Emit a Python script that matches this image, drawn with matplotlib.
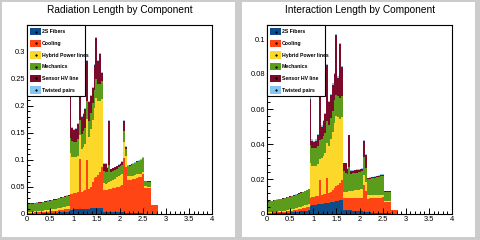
import numpy as np
import matplotlib
matplotlib.use('Agg')
import matplotlib.pyplot as plt
from matplotlib.patches import Rectangle
from matplotlib.ticker import MultipleLocator, FuncFormatter

plt.rcParams['font.family'] = ['Liberation Sans', 'DejaVu Sans']

# eta bins, 0.04 wide, filled up to 2.84
edges = np.linspace(0, 2.84, 72)

components = ['2S Fibers', 'Cooling', 'Hybrid Power lines', 'Mechanics',
              'Sensor HV line', 'Twisted pairs']
colors = ['#0f4c8a', '#ff4513', '#fcd82b', '#5b9c1d', '#7c0a2a', '#86c6f4']

# ---- radiation length (x/X0) per component
fib_rad = [0.0004, 0.0004, 0.0005, 0.0005, 0.0006, 0.0007, 0.0008, 0.0009, 0.0010, 0.0012, 0.0013, 0.0015,
           0.0017, 0.0019, 0.0021, 0.0023, 0.0026, 0.0029, 0.0032, 0.0035, 0.0038, 0.0040, 0.0042,
           0.0080, 0.0082, 0.0084, 0.0086, 0.0088, 0.0090, 0.0092, 0.0094, 0.0096, 0.0098, 0.0100, 0.0102,
           0.0104, 0.0106, 0.0108, 0.0110, 0.0115, 0.0120,
           0.0045, 0.0043, 0.0041, 0.0040, 0.0038, 0.0036, 0.0035, 0.0034, 0.0033, 0.0032, 0.0031,
           0.0030, 0.0026, 0.0022, 0.0019, 0.0017, 0.0015, 0.0014, 0.0013, 0.0012, 0.0011, 0.0010,
           0.0008, 0.0008, 0.0007, 0.0007, 0.0005, 0.0005, 0.0005, 0.0005]
cool_rad = [0.0020, 0.0020, 0.0021, 0.0022, 0.0023, 0.0024, 0.0025, 0.0026, 0.0027, 0.0028, 0.0029, 0.0030,
            0.0031, 0.0032, 0.0034, 0.0036, 0.0038, 0.0040, 0.0042, 0.0044, 0.0046, 0.0048, 0.0050,
            0.029, 0.029, 0.030, 0.030, 0.031, 0.092, 0.032, 0.033, 0.034, 0.090, 0.036, 0.040,
            0.048, 0.055, 0.058, 0.061, 0.066, 0.075,
            0.040, 0.040, 0.041, 0.042, 0.043, 0.044, 0.045, 0.046, 0.047, 0.048, 0.050,
            0.100, 0.085, 0.060, 0.061, 0.062, 0.063, 0.064, 0.066, 0.067, 0.068, 0.072,
            0.048, 0.048, 0.047, 0.047, 0.016, 0.016, 0.016, 0.016]
hyb_rad = [0.0015, 0.0016, 0.0017, 0.0018, 0.0019, 0.0020, 0.0021, 0.0022, 0.0024, 0.0026, 0.0028, 0.0030,
           0.0032, 0.0034, 0.0036, 0.0038, 0.0040, 0.0043, 0.0046, 0.0049, 0.0052, 0.0055, 0.0058,
           0.075, 0.068, 0.066, 0.066, 0.068, 0.045, 0.078, 0.082, 0.086, 0.075, 0.096, 0.106,
           0.116, 0.130, 0.146, 0.136, 0.131, 0.126,
           0.012, 0.012, 0.013, 0.014, 0.015, 0.016, 0.017, 0.018, 0.019, 0.020, 0.021,
           0.030, 0.020, 0.008, 0.007, 0.007, 0.006, 0.006, 0.006, 0.005, 0.005, 0.005,
           0.002, 0.002, 0.002, 0.002, 0, 0, 0, 0]
mech_rad = [0.0140, 0.0142, 0.0144, 0.0146, 0.0148, 0.0150, 0.0152, 0.0154, 0.0156, 0.0158, 0.0160, 0.0162,
            0.0164, 0.0166, 0.0168, 0.0170, 0.0172, 0.0175, 0.0178, 0.0181, 0.0184, 0.0187, 0.0190,
            0.028, 0.029, 0.029, 0.029, 0.030, 0.028, 0.029, 0.029, 0.030, 0.034, 0.030, 0.030,
            0.031, 0.034, 0.034, 0.032, 0.032, 0.032,
            0.022, 0.021, 0.020, 0.030, 0.016, 0.016, 0.016, 0.016, 0.017, 0.017, 0.017,
            0.020, 0.012, 0.018, 0.019, 0.020, 0.021, 0.022, 0.023, 0.024, 0.025, 0.025,
            0.010, 0.010, 0.010, 0.010, 0, 0, 0, 0]
sens_rad = [0.0010] * 23 + \
           [0.090, 0.024, 0.022, 0.023, 0.028, 0.052, 0.031, 0.031, 0.035, 0.074, 0.034, 0.032,
            0.028, 0.046, 0.076, 0.043, 0.055, 0.016,
            0.0145, 0.0157, 0.007, 0.082, 0.005, 0.005, 0.005, 0.005, 0.005, 0.005, 0.005,
            0.019, 0.005, 0.001, 0.001, 0.001, 0.001, 0.001, 0.001, 0.001, 0.001, 0.001,
            0.0005, 0.0005, 0.0005, 0.0005, 0, 0, 0, 0]
twist_rad = [0.0003] * 23 + [0.002] * 18 + [0.001] * 22 + [0.0005] * 4 + [0] * 4

# ---- interaction length (x/lambda_I) per component
fib_int = [0.0002, 0.0002, 0.0002, 0.0003, 0.0003, 0.0003, 0.0004, 0.0004, 0.0005, 0.0005, 0.0006, 0.0007,
           0.0008, 0.0009, 0.0010, 0.0011, 0.0012, 0.0013, 0.0015, 0.0016, 0.0018, 0.0020, 0.0022,
           0.0048, 0.0050, 0.0052, 0.0053, 0.0055, 0.0056, 0.0058, 0.0060, 0.0062, 0.0064, 0.0065, 0.0067,
           0.0069, 0.0071, 0.0074, 0.0077, 0.0080, 0.0082,
           0.0025, 0.0024, 0.0023, 0.0022, 0.0021, 0.0020, 0.0019, 0.0018, 0.0017, 0.0016, 0.0015,
           0.0014, 0.0012, 0.0010, 0.0009, 0.0008, 0.0007, 0.0007, 0.0006, 0.0006, 0.0005, 0.0005,
           0.0004, 0.0004, 0.0004, 0.0004, 0.0002, 0.0002, 0.0002, 0.0002]
cool_int = [0.0006, 0.0006, 0.0006, 0.0007, 0.0007, 0.0007, 0.0008, 0.0008, 0.0009, 0.0009, 0.0010, 0.0010,
            0.0011, 0.0011, 0.0012, 0.0013, 0.0013, 0.0014, 0.0015, 0.0016, 0.0017, 0.0018, 0.0019,
            0.0045, 0.0046, 0.0047, 0.0048, 0.0050, 0.0140, 0.0052, 0.0053, 0.0055, 0.0140, 0.0056, 0.0060,
            0.0070, 0.0080, 0.0085, 0.0090, 0.0095, 0.0110,
            0.0065, 0.0065, 0.0066, 0.0067, 0.0068, 0.0069, 0.0070, 0.0071, 0.0072, 0.0073, 0.0075,
            0.0150, 0.0120, 0.0078, 0.0080, 0.0081, 0.0082, 0.0083, 0.0084, 0.0086, 0.0088, 0.0090,
            0.0065, 0.0065, 0.0065, 0.0065, 0.0020, 0.0020, 0.0020, 0.0020]
hyb_int = [0.0003, 0.0003, 0.0003, 0.0004, 0.0004, 0.0004, 0.0005, 0.0005, 0.0005, 0.0006, 0.0006, 0.0007,
           0.0007, 0.0008, 0.0008, 0.0009, 0.0010, 0.0011, 0.0012, 0.0013, 0.0014, 0.0015, 0.0016,
           0.0200, 0.0180, 0.0175, 0.0175, 0.0180, 0.0120, 0.0210, 0.0220, 0.0230, 0.0200, 0.0270, 0.0300,
           0.0330, 0.0370, 0.0400, 0.0390, 0.0370, 0.0360,
           0.0035, 0.0035, 0.0037, 0.0040, 0.0042, 0.0044, 0.0046, 0.0048, 0.0050, 0.0052, 0.0054,
           0.0060, 0.0050, 0.0020, 0.0018, 0.0018, 0.0017, 0.0016, 0.0016, 0.0015, 0.0015, 0.0015,
           0.0005, 0.0005, 0.0005, 0.0005, 0, 0, 0, 0]
mech_int = [0.0060, 0.0061, 0.0062, 0.0063, 0.0064, 0.0065, 0.0066, 0.0067, 0.0068, 0.0069, 0.0070, 0.0071,
            0.0072, 0.0073, 0.0074, 0.0075, 0.0076, 0.0077, 0.0078, 0.0079, 0.0080, 0.0082, 0.0084,
            0.0100, 0.0100, 0.0102, 0.0104, 0.0106, 0.0108, 0.0110, 0.0112, 0.0114, 0.0130, 0.0118, 0.0120,
            0.0122, 0.0130, 0.0120, 0.0120, 0.0120, 0.0120,
            0.0120, 0.0110, 0.0100, 0.0140, 0.0100, 0.0100, 0.0100, 0.0100, 0.0100, 0.0100, 0.0100,
            0.0100, 0.0080, 0.0092, 0.0095, 0.0097, 0.0100, 0.0102, 0.0104, 0.0106, 0.0108, 0.0110,
            0.0054, 0.0054, 0.0054, 0.0054, 0, 0, 0, 0]
sens_int = [0.0003] * 23 + \
           [0.0267, 0.0044, 0.0034, 0.0040, 0.0059, 0.0256, 0.0070, 0.0085, 0.0109, 0.0316, 0.0131, 0.0133,
            0.0149, 0.0149, 0.0346, 0.0103, 0.0305, 0.0168,
            0.0045, 0.0056, 0.0034, 0.0181, 0.0015, 0.0015, 0.0015, 0.0015, 0.0015, 0.0015, 0.0015,
            0.0096, 0.0078, 0.0005, 0.0005, 0.0005, 0.0005, 0.0005, 0.0005, 0.0005, 0.0005, 0.0005,
            0.0002, 0.0002, 0.0002, 0.0002, 0, 0, 0, 0]
twist_int = [0.0001] * 23 + [0.0006] * 18 + [0.0003] * 20 + [0.0010, 0.0003] + [0.0001] * 4 + [0] * 4

rad_layers = [fib_rad, cool_rad, hyb_rad, mech_rad, sens_rad, twist_rad]
int_layers = [fib_int, cool_int, hyb_int, mech_int, sens_int, twist_int]

W, H = 480, 240
fig = plt.figure(figsize=(W / 100, H / 100), dpi=100, facecolor='#cccccc')


def px_rect(x0, y0, x1, y1):
    # pixel box (top-left origin) -> figure fraction
    return [x0 / W, 1 - y1 / H, (x1 - x0) / W, (y1 - y0) / H]


def panel(x_off, layers, ymax, ymaj, ymin, title):
    bg = px_rect(x_off + 2, 2, x_off + 235, 237)
    fig.add_artist(Rectangle(bg[:2], bg[2], bg[3], transform=fig.transFigure,
                             facecolor='white', edgecolor='none', zorder=0))
    ax = fig.add_axes(px_rect(x_off + 27, 25, x_off + 212, 214))
    bottom = np.zeros(len(edges) - 1)
    for vals, c in zip(layers, colors):
        top = bottom + np.asarray(vals)
        ax.stairs(top, edges, baseline=bottom, fill=True, color=c, lw=0, antialiased=False)
        bottom = top
    ax.set_xlim(0, 4)
    ax.set_ylim(0, ymax)
    ax.xaxis.set_major_locator(MultipleLocator(0.5))
    ax.xaxis.set_minor_locator(MultipleLocator(0.1))
    ax.yaxis.set_major_locator(MultipleLocator(ymaj))
    ax.yaxis.set_minor_locator(MultipleLocator(ymin))
    fmt = FuncFormatter(lambda v, p: '%g' % round(v, 6))
    ax.xaxis.set_major_formatter(fmt)
    ax.yaxis.set_major_formatter(fmt)
    ax.tick_params(which='both', direction='in', top=False, right=False, width=0.7,
                   labelsize=5.4, pad=1.5)
    ax.tick_params(which='major', length=4.3)
    ax.tick_params(which='minor', length=2.2)
    for s in ax.spines.values():
        s.set_linewidth(0.8)

    # legend box drawn like the ROOT TLegend
    lx1 = (85 - 27) / 185
    ly0 = (214 - 96) / 189
    ax.add_patch(Rectangle((0, ly0), lx1, 1 - ly0, transform=ax.transAxes,
                           facecolor='white', edgecolor='black', lw=0.8, zorder=5,
                           clip_on=False))
    for k, (name, c) in enumerate(zip(components, colors)):
        yc = (214 - (31.7 + 11.67 * k)) / 189
        ax.add_patch(Rectangle((3 / 185, yc - 3.6 / 189), 11 / 185, 7.2 / 189,
                               transform=ax.transAxes, facecolor=c, edgecolor='none',
                               zorder=6, clip_on=False))
        ax.plot([8.5 / 185], [yc], marker='s', ms=0.6, color='black',
                transform=ax.transAxes, zorder=7, clip_on=False)
        ax.text(15 / 185, yc, name, transform=ax.transAxes, fontsize=3.7,
                fontweight='bold', va='center', ha='left', zorder=7)
    fig.text((x_off + 120) / W, 1 - 10 / H, title, fontsize=7.3, ha='center', va='center')
    return ax


panel(0, rad_layers, 0.349, 0.05, 0.01, 'Radiation Length by Component')
panel(240, int_layers, 0.108, 0.02, 0.004, 'Interaction Length by Component')

fig.savefig('out.png', dpi=100, facecolor=fig.get_facecolor())
